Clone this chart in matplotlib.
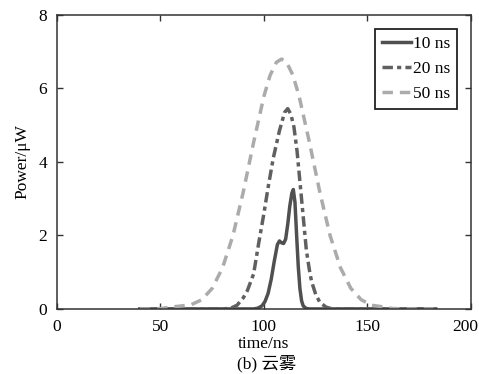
import numpy as np
import matplotlib.pyplot as plt
import matplotlib.transforms as mtransforms

plt.rcParams['font.family'] = ['Liberation Serif', 'Noto Sans CJK SC']

# 10 ns pulse
t_10 = [40, 60, 80, 95, 97, 99, 100.5, 102, 103.5, 105, 106.5, 107.5, 108.5, 109.5,
        110.5, 111.5, 112.5, 113.5, 114.2, 115, 115.8, 116.6, 117.4, 118.2, 119,
        120.5, 122, 140, 160, 183]
p_10 = [0, 0, 0, 0, 0.02, 0.08, 0.2, 0.42, 0.8, 1.3, 1.75, 1.85, 1.8, 1.78,
        1.9, 2.3, 2.8, 3.15, 3.25, 2.9, 2.0, 1.15, 0.55, 0.22, 0.08,
        0.01, 0, 0, 0, 0]

# 20 ns pulse
t_20 = [40, 60, 80, 84, 87, 90, 92, 95, 97.5, 100, 102, 104.5, 107.5, 110, 111.5,
        113, 114.5, 116, 117.5, 119, 120.5, 122, 123, 125, 127, 130, 133, 150, 183]
p_20 = [0, 0, 0, 0.02, 0.1, 0.3, 0.5, 0.95, 1.8, 2.6, 3.3, 4.1, 4.85, 5.35, 5.45,
        5.3, 4.95, 4.3, 3.4, 2.5, 1.6, 1.05, 0.75, 0.4, 0.18, 0.05, 0, 0, 0]

# 50 ns pulse
t_50 = [40, 45, 50, 55, 60, 65, 70, 75, 80, 85, 90, 95, 100, 103, 106, 108.5,
        111, 114, 117, 122, 127, 132, 137, 142, 147, 152, 157, 162, 167, 172, 177, 182]
p_50 = [0, 0, 0.01, 0.05, 0.08, 0.12, 0.25, 0.56, 1.12, 1.99, 3.18, 4.53, 5.79, 6.36,
        6.71, 6.8, 6.71, 6.36, 5.79, 4.53, 3.18, 1.99, 1.12, 0.56, 0.25, 0.1,
        0.06, 0.012, 0.003, 0, 0, 0]

fig = plt.figure(figsize=(4.79, 3.74), dpi=100)
ax = fig.add_axes([0.119, 0.174, 0.864, 0.786])

ax.plot(t_10, p_10, color='#505050', lw=2.5, label='10 ns')
ax.plot(t_20, p_20, color='#606060', lw=2.5, dashes=(3.0, 1.2, 1.2, 1.2), label='20 ns')
ax.plot(t_50, p_50, color='#ababab', lw=2.5, dashes=(3.0, 2.0), label='50 ns')

ax.set_xlim(0, 200)
ax.set_ylim(0, 8)
ax.set_xticks([0, 50, 100, 150, 200])
ax.set_yticks([0, 2, 4, 6, 8])
ax.tick_params(direction='in', top=True, right=True, labelsize=12.5, length=4,
               width=1, color='#333333', pad=7)
for s in ax.spines.values():
    s.set_color('#333333')
    s.set_linewidth(1.1)

# keep the last x label inside the picture, as in the original
last = ax.get_xticklabels()[-1]
last.set_transform(last.get_transform() +
                   mtransforms.ScaledTranslation(-6 / 100, 0, fig.dpi_scale_trans))

ax.set_xlabel('time/ns', fontsize=12.5, labelpad=1)
ax.set_ylabel('Power/μW', fontsize=12.5, labelpad=6)

leg = ax.legend(loc='upper right', fontsize=12.5, fancybox=False, framealpha=1,
                edgecolor='#222222', handlelength=1.7, handletextpad=0.1,
                labelspacing=0.5, borderaxespad=0.8, borderpad=0.4)
leg.get_frame().set_linewidth(1.3)

fig.text(0.557, 0.028, '(b) 云雾', ha='center', va='center', fontsize=12.5)

fig.savefig('out.png', dpi=100)
